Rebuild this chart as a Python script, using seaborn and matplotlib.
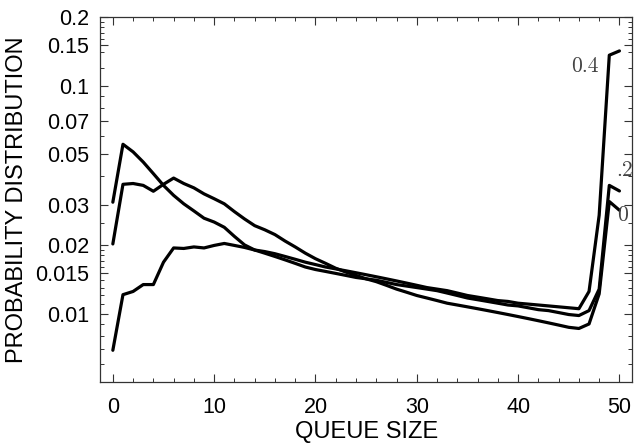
import numpy as np
import pandas as pd
import matplotlib
matplotlib.use("Agg")
import matplotlib.pyplot as plt
import matplotlib.ticker as mticker
import seaborn as sns

# tamaño de cola 0..50
queue_size = list(range(51))

# curva p = 0 (pico plano ~0.037 al inicio)
prob_p0 = [0.0202, 0.0369, 0.0372, 0.0365, 0.0344, 0.0369, 0.0393, 0.0372, 0.0356, 0.0335,
           0.0319, 0.0303, 0.0280, 0.0260, 0.0243, 0.0233, 0.0222, 0.0208, 0.0196, 0.0184,
           0.0174, 0.0166, 0.0158, 0.0152, 0.0147, 0.0142, 0.0138, 0.0133, 0.0128, 0.0124,
           0.0120, 0.0117, 0.0114, 0.0111, 0.0109, 0.0107, 0.0105, 0.0103, 0.0101, 0.0099,
           0.0097, 0.0095, 0.0093, 0.0091, 0.0089, 0.0087, 0.0086, 0.0090, 0.0122, 0.0310,
           0.0284]

# curva p = 0.2 (pico 0.055 en 1)
prob_p02 = [0.0308, 0.0553, 0.0512, 0.0462, 0.0411, 0.0365, 0.0330, 0.0303, 0.0282, 0.0262,
            0.0252, 0.0239, 0.0218, 0.0200, 0.0190, 0.0184, 0.0178, 0.0172, 0.0166, 0.0160,
            0.0156, 0.0153, 0.0150, 0.0147, 0.0144, 0.0142, 0.0140, 0.0137, 0.0134, 0.0132,
            0.0130, 0.0128, 0.0126, 0.0123, 0.0120, 0.0117, 0.0115, 0.0113, 0.0111, 0.0109,
            0.0108, 0.0106, 0.0104, 0.0103, 0.0101, 0.0099, 0.0098, 0.0103, 0.0128, 0.0365,
            0.0345]

# curva p = 0.4 (empieza baja, termina en 0.14)
prob_p04 = [0.0069, 0.0121, 0.0125, 0.0134, 0.0134, 0.0168, 0.0194, 0.0193, 0.0196, 0.0194,
            0.0199, 0.0203, 0.0199, 0.0195, 0.0190, 0.0187, 0.0183, 0.0178, 0.0173, 0.0168,
            0.0164, 0.0160, 0.0157, 0.0154, 0.0151, 0.0148, 0.0145, 0.0142, 0.0139, 0.0136,
            0.0133, 0.0130, 0.0128, 0.0126, 0.0123, 0.0120, 0.0118, 0.0116, 0.0114, 0.0113,
            0.0111, 0.0110, 0.0109, 0.0108, 0.0107, 0.0106, 0.0105, 0.0125, 0.0270, 0.1360,
            0.1420]

curve_labels = ["0", ".2", "0.4"]
y_ticks = [0.01, 0.015, 0.02, 0.03, 0.05, 0.07, 0.1, 0.15, 0.2]
y_tick_labels = ["0.01", "0.015", "0.02", "0.03", "0.05", "0.07", "0.1", "0.15", "0.2"]
y_minor = [0.006, 0.007, 0.008, 0.009, 0.011, 0.012, 0.013, 0.014, 0.016, 0.017, 0.018,
           0.019, 0.025, 0.04, 0.06, 0.08, 0.09, 0.12, 0.14, 0.16, 0.17, 0.18, 0.19]

# tabla larga para seaborn
df = pd.DataFrame({
    "queue": queue_size * 3,
    "prob": prob_p0 + prob_p02 + prob_p04,
    "p": ["0"] * 51 + ["0.2"] * 51 + ["0.4"] * 51,
})

sns.set_style("ticks")
plt.rcParams["font.family"] = ["Liberation Sans", "DejaVu Sans"]
plt.rcParams["text.color"] = "black"
plt.rcParams["axes.labelcolor"] = "black"

fig = plt.figure(figsize=(6.34, 4.48), dpi=100)
ax = fig.add_axes([0.158, 0.147, 0.839, 0.815])

sns.lineplot(data=df, x="queue", y="prob", hue="p",
             palette={"0": "black", "0.2": "black", "0.4": "black"},
             linewidth=2.3, legend=False, ax=ax)

ax.set_yscale("log")
ax.set_xlim(-1.25, 51.25)
ax.set_ylim(0.005, 0.2)

ax.set_xticks([0, 10, 20, 30, 40, 50])
ax.xaxis.set_minor_locator(mticker.MultipleLocator(2))
ax.set_yticks(y_ticks)
ax.set_yticklabels(y_tick_labels)
ax.yaxis.set_minor_locator(mticker.FixedLocator(y_minor))
ax.yaxis.set_minor_formatter(mticker.NullFormatter())

ax.tick_params(which="both", direction="in", top=True, right=True, color="#333333",
               labelcolor="black")
ax.tick_params(which="major", length=6, width=0.8, labelsize=15.5)
ax.tick_params(axis="x", which="major", pad=11)
ax.tick_params(axis="y", which="major", pad=8)
ax.tick_params(which="minor", length=3, width=0.7)
for s in ax.spines.values():
    s.set_linewidth(0.9)
    s.set_color("#333333")

ax.set_xlabel("QUEUE SIZE", fontsize=17, labelpad=2)
ax.set_ylabel("PROBABILITY DISTRIBUTION", fontsize=17, labelpad=5)

# etiquetas de las curvas
ax.text(47.9, 0.122, "0.4", family="cmr10", fontsize=15.5, color="#444444",
        ha="right", va="center")
ax.text(50.5, 0.0426, ".2", family="cmr10", fontsize=15.5, color="#444444",
        ha="center", va="center", clip_on=False)
ax.text(50.3, 0.027, "0", family="cmr10", fontsize=15.5, color="#444444",
        ha="center", va="center")

fig.savefig("out.png", dpi=100)
plt.close(fig)
